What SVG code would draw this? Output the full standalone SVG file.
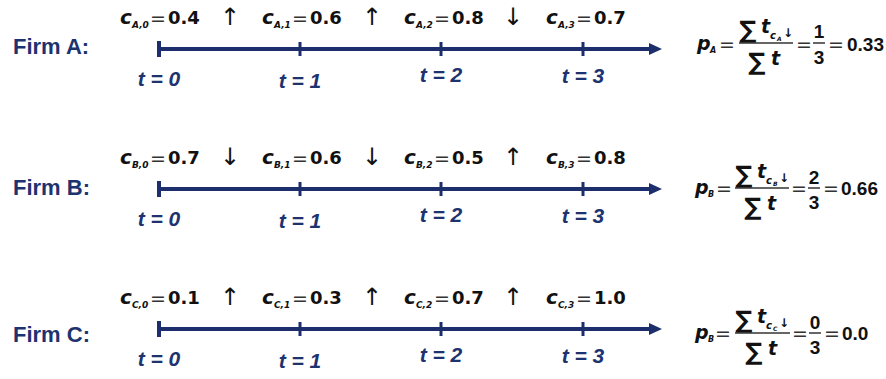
<svg xmlns="http://www.w3.org/2000/svg" width="886" height="379" viewBox="0 0 886 379">
<style>
.firm{font-family:"Liberation Sans",Arial,sans-serif;font-weight:bold;font-size:22px;fill:#1d3370}
.t{font-family:"Liberation Sans",Arial,sans-serif;font-weight:bold;font-style:italic;font-size:21px;fill:#1d3370;text-anchor:middle}
.c{font-family:"DejaVu Sans",sans-serif;font-weight:bold;font-style:italic;font-size:20px;fill:#111}
.sub{font-family:"DejaVu Sans",sans-serif;font-weight:bold;font-style:italic;font-size:9px;fill:#111}
.eq{font-family:"DejaVu Sans",sans-serif;font-size:19px;fill:#333}
.num{font-family:"DejaVu Sans",sans-serif;font-weight:bold;font-size:18px;fill:#111}
.arr{font-family:"DejaVu Sans",sans-serif;font-size:24px;fill:#111;text-anchor:middle}
.p{font-family:"DejaVu Sans",sans-serif;font-weight:bold;font-style:italic;font-size:19px;fill:#111}
.psub{font-family:"DejaVu Sans",sans-serif;font-weight:bold;font-style:italic;font-size:8px;fill:#111}
.sig{font-family:"DejaVu Sans",sans-serif;font-weight:bold;font-size:24px;fill:#111}
.ft{font-family:"DejaVu Sans",sans-serif;font-weight:bold;font-style:italic;font-size:19px;fill:#111}
.fs{font-family:"DejaVu Sans",sans-serif;font-weight:bold;font-style:italic;font-size:10px;fill:#111}
.fss{font-family:"DejaVu Sans",sans-serif;font-weight:bold;font-style:italic;font-size:6px;fill:#111}
.dn{font-family:"DejaVu Sans",sans-serif;font-weight:bold;font-size:12px;fill:#111}
.fn{font-family:"Liberation Sans",Arial,sans-serif;font-weight:bold;font-size:19px;fill:#111}
.fd{font-family:"Liberation Sans",Arial,sans-serif;font-weight:bold;font-size:19px;fill:#111;text-anchor:middle}
.bar{stroke:#333;stroke-width:1.5}
.axis{stroke:#1c2e6b;stroke-width:4;fill:none}
.tick{stroke:#1c2e6b;stroke-width:3}
.tick0{stroke:#1c2e6b;stroke-width:4}
</style>
<defs>
<marker id="ah" viewBox="0 0 13 12" refX="0" refY="6" markerWidth="13" markerHeight="12" markerUnits="userSpaceOnUse" orient="auto">
<path d="M0,0 L13,6 L0,12 Z" fill="#1c2e6b"/>
</marker>
</defs>

<g id="timelines">
<line class="axis" x1="159" y1="49" x2="649" y2="49" marker-end="url(#ah)"/>
<line class="tick0" x1="159" y1="41" x2="159" y2="57"/>
<line class="tick" x1="300" y1="42" x2="300" y2="56"/>
<line class="tick" x1="441" y1="42" x2="441" y2="56"/>
<line class="tick" x1="583" y1="42" x2="583" y2="56"/>

<line class="axis" x1="159" y1="189" x2="649" y2="189" marker-end="url(#ah)"/>
<line class="tick0" x1="159" y1="181" x2="159" y2="197"/>
<line class="tick" x1="300" y1="182" x2="300" y2="196"/>
<line class="tick" x1="441" y1="182" x2="441" y2="196"/>
<line class="tick" x1="583" y1="182" x2="583" y2="196"/>

<line class="axis" x1="159" y1="329" x2="649" y2="329" marker-end="url(#ah)"/>
<line class="tick0" x1="159" y1="321" x2="159" y2="337"/>
<line class="tick" x1="300" y1="322" x2="300" y2="336"/>
<line class="tick" x1="441" y1="322" x2="441" y2="336"/>
<line class="tick" x1="583" y1="322" x2="583" y2="336"/>
</g>

<g id="firm-a">
<text class="firm" x="13" y="54">Firm A:</text>
<text class="c" x="120" y="24">c</text><text class="sub" x="132" y="28">A,0</text><text class="eq" x="150" y="25">=</text><text class="num" x="168" y="24">0.4</text>
<text class="arr" x="230" y="25">↑</text>
<text class="c" x="262" y="24">c</text><text class="sub" x="274" y="28">A,1</text><text class="eq" x="292" y="25">=</text><text class="num" x="310" y="24">0.6</text>
<text class="arr" x="372" y="25">↑</text>
<text class="c" x="404" y="24">c</text><text class="sub" x="416" y="28">A,2</text><text class="eq" x="434" y="25">=</text><text class="num" x="452" y="24">0.8</text>
<text class="arr" x="513" y="25">↓</text>
<text class="c" x="546" y="24">c</text><text class="sub" x="558" y="28">A,3</text><text class="eq" x="576" y="25">=</text><text class="num" x="594" y="24">0.7</text>
<text class="t" x="159" y="86">t = 0</text>
<text class="t" x="300" y="88">t = 1</text>
<text class="t" x="441" y="82">t = 2</text>
<text class="t" x="583" y="83">t = 3</text>
<text class="p" x="697" y="50">p</text><text class="psub" x="710" y="53">A</text>
<text class="eq" x="719" y="51">=</text>
<text class="sig" x="739" y="38">∑</text><text class="ft" x="761" y="33">t</text><text class="fs" x="770" y="39">c</text><text class="fss" x="777" y="41">A</text><text class="dn" x="783" y="37">↓</text>
<line class="bar" x1="739" y1="43" x2="793" y2="43"/>
<text class="sig" x="748" y="70">∑</text><text class="ft" x="771" y="65">t</text>
<text class="eq" x="796" y="51">=</text>
<text class="fd" x="819" y="38">1</text>
<line class="bar" x1="813" y1="43" x2="825" y2="43"/>
<text class="fd" x="819" y="64">3</text>
<text class="eq" x="828" y="51">=</text>
<text class="fn" x="847" y="51">0.33</text>
</g>

<g id="firm-b">
<text class="firm" x="13" y="195">Firm B:</text>
<text class="c" x="120" y="164">c</text><text class="sub" x="132" y="168">B,0</text><text class="eq" x="150" y="165">=</text><text class="num" x="168" y="164">0.7</text>
<text class="arr" x="230" y="165">↓</text>
<text class="c" x="262" y="164">c</text><text class="sub" x="274" y="168">B,1</text><text class="eq" x="292" y="165">=</text><text class="num" x="310" y="164">0.6</text>
<text class="arr" x="372" y="165">↓</text>
<text class="c" x="404" y="164">c</text><text class="sub" x="416" y="168">B,2</text><text class="eq" x="434" y="165">=</text><text class="num" x="452" y="164">0.5</text>
<text class="arr" x="513" y="165">↑</text>
<text class="c" x="546" y="164">c</text><text class="sub" x="558" y="168">B,3</text><text class="eq" x="576" y="165">=</text><text class="num" x="594" y="164">0.8</text>
<text class="t" x="159" y="226">t = 0</text>
<text class="t" x="300" y="228">t = 1</text>
<text class="t" x="441" y="222">t = 2</text>
<text class="t" x="583" y="223">t = 3</text>
<text class="p" x="695" y="194">p</text><text class="psub" x="708" y="197">B</text>
<text class="eq" x="716" y="195">=</text>
<text class="sig" x="735" y="183">∑</text><text class="ft" x="757" y="178">t</text><text class="fs" x="766" y="184">c</text><text class="fss" x="773" y="186">B</text><text class="dn" x="779" y="182">↓</text>
<line class="bar" x1="735" y1="188" x2="789" y2="188"/>
<text class="sig" x="744" y="215">∑</text><text class="ft" x="767" y="210">t</text>
<text class="eq" x="791" y="195">=</text>
<text class="fd" x="814" y="184">2</text>
<line class="bar" x1="808" y1="188" x2="820" y2="188"/>
<text class="fd" x="814" y="209">3</text>
<text class="eq" x="823" y="195">=</text>
<text class="fn" x="841" y="195">0.66</text>
</g>

<g id="firm-c">
<text class="firm" x="13" y="342">Firm C:</text>
<text class="c" x="120" y="304">c</text><text class="sub" x="132" y="308">C,0</text><text class="eq" x="150" y="305">=</text><text class="num" x="168" y="304">0.1</text>
<text class="arr" x="230" y="305">↑</text>
<text class="c" x="262" y="304">c</text><text class="sub" x="274" y="308">C,1</text><text class="eq" x="292" y="305">=</text><text class="num" x="310" y="304">0.3</text>
<text class="arr" x="372" y="305">↑</text>
<text class="c" x="404" y="304">c</text><text class="sub" x="416" y="308">C,2</text><text class="eq" x="434" y="305">=</text><text class="num" x="452" y="304">0.7</text>
<text class="arr" x="513" y="305">↑</text>
<text class="c" x="546" y="304">c</text><text class="sub" x="558" y="308">C,3</text><text class="eq" x="576" y="305">=</text><text class="num" x="594" y="304">1.0</text>
<text class="t" x="159" y="366">t = 0</text>
<text class="t" x="300" y="368">t = 1</text>
<text class="t" x="441" y="362">t = 2</text>
<text class="t" x="583" y="363">t = 3</text>
<text class="p" x="695" y="339">p</text><text class="psub" x="708" y="342">B</text>
<text class="eq" x="715" y="340">=</text>
<text class="sig" x="735" y="328">∑</text><text class="ft" x="757" y="323">t</text><text class="fs" x="766" y="329">c</text><text class="fss" x="773" y="331">C</text><text class="dn" x="779" y="327">↓</text>
<line class="bar" x1="735" y1="333" x2="790" y2="333"/>
<text class="sig" x="745" y="360">∑</text><text class="ft" x="768" y="355">t</text>
<text class="eq" x="792" y="340">=</text>
<text class="fd" x="815" y="329">0</text>
<line class="bar" x1="809" y1="333" x2="821" y2="333"/>
<text class="fd" x="815" y="354">3</text>
<text class="eq" x="824" y="340">=</text>
<text class="fn" x="842" y="340">0.0</text>
</g>
</svg>
